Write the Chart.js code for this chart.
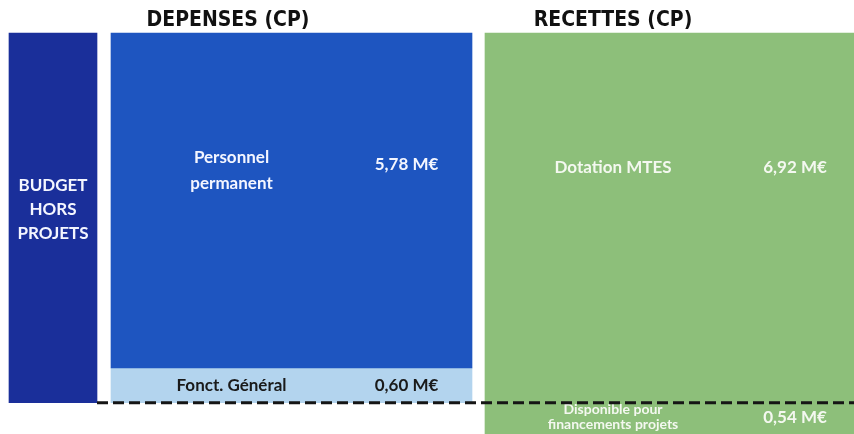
<!DOCTYPE html>
<html>
<head>
<meta charset="utf-8">
<script src="https://cdn.jsdelivr.net/npm/chart.js@4.4.1/dist/chart.umd.min.js"></script>
<style>
  html, body { margin: 0; padding: 0; background: #fff; }
  #wrap { width: 854px; height: 434px; }
</style>
</head>
<body>
<div id="wrap"><canvas id="budget"></canvas></div>
<script>
// values from the budget diagram (M€)
const columns = ['DEPENSES (CP)', 'RECETTES (CP)'];
const budgetLabel = ['BUDGET', 'HORS', 'PROJETS'];
const depenseNames = [['Personnel', 'permanent'], ['Fonct. Général']];
const depenseValues = [5.78, 0.60];
const recetteNames = [['Dotation MTES'], ['Disponible pour', 'financements projets']];
const recetteValues = [6.92, 0.54];

const dispo = recetteValues[1];
const dotation = recetteValues[0];
const fonctTop = dispo + depenseValues[1];
const persoTop = fonctTop + depenseValues[0];

const fmt = v => v.toFixed(2).replace('.', ',') + ' M€';
const labelFont = 'bold 17px Lato, "Open Sans", sans-serif';

function drawLines(ctx, lines, x, y, lh) {
  const start = y - (lines.length - 1) * lh / 2;
  lines.forEach((t, i) => ctx.fillText(t, x, start + i * lh));
}

// texts inside the blocks + dashed split line
const blockLabels = {
  id: 'blockLabels',
  afterDatasetsDraw(chart) {
    const ctx = chart.ctx;
    const el = (d, i) => chart.getDatasetMeta(d).data[i];
    const mid = e => (e.y + e.base) / 2;
    ctx.save();
    ctx.textAlign = 'center';
    ctx.textBaseline = 'middle';
    ctx.font = labelFont;

    const b = el(0, 0);
    ctx.fillStyle = '#f4f6ff';
    drawLines(ctx, budgetLabel, b.x, mid(b) - 8, 24);

    // upper row labels sit a bit above the middle of the big block
    const perso = el(1, 0);
    const rowY = perso.y + (perso.base - perso.y) * 0.41;
    drawLines(ctx, depenseNames[0], perso.x - 60, rowY, 26);
    ctx.fillText(fmt(depenseValues[0]), perso.x + 115, rowY - 6);

    const fonct = el(2, 0);
    ctx.fillStyle = '#1a1a1a';
    drawLines(ctx, depenseNames[1], fonct.x - 60, mid(fonct), 26);
    ctx.fillText(fmt(depenseValues[1]), fonct.x + 115, mid(fonct));

    const dot = el(3, 1);
    ctx.fillStyle = '#f4f8f0';
    drawLines(ctx, recetteNames[0], dot.x - 62, rowY - 3, 26);
    ctx.fillText(fmt(recetteValues[0]), dot.x + 120, rowY - 3);

    const dis = el(4, 1);
    const dy = mid(dis) - 1;
    ctx.font = 'bold 14px Lato, "Open Sans", sans-serif';
    drawLines(ctx, recetteNames[1], dis.x - 62, dy, 15);
    ctx.font = labelFont;
    ctx.fillText(fmt(recetteValues[1]), dis.x + 120, dy);

    // dashed line at the "disponible" level
    const y = chart.scales.y.getPixelForValue(dispo);
    ctx.beginPath();
    ctx.setLineDash([11, 5]);
    ctx.lineWidth = 3;
    ctx.strokeStyle = '#151515';
    ctx.moveTo(b.x + b.width / 2, y);
    ctx.lineTo(chart.width, y);
    ctx.stroke();
    ctx.restore();
  }
};

new Chart(document.getElementById('budget'), {
  type: 'bar',
  data: {
    labels: columns,
    datasets: [
      { label: 'Budget hors projets', data: [[dispo, persoTop], null], stack: 'a',
        backgroundColor: '#1a2f9a', barThickness: 94, maxBarThickness: 88 },
      { label: depenseNames[0].join(' '), data: [[fonctTop, persoTop], null], stack: 'b',
        backgroundColor: '#1e55c0', barThickness: 383, maxBarThickness: 361 },
      { label: depenseNames[1].join(' '), data: [[dispo, fonctTop], null], stack: 'b',
        backgroundColor: '#b3d4ee', barThickness: 383, maxBarThickness: 361 },
      { label: recetteNames[0].join(' '), data: [null, [dispo, dotation]], stack: 'b',
        backgroundColor: '#8dbf7a', barThickness: 380 },
      { label: recetteNames[1].join(' '), data: [null, [0, dispo]], stack: 'b',
        backgroundColor: '#8dbf7a', barThickness: 380 }
    ]
  },
  options: {
    responsive: true,
    maintainAspectRatio: false,
    animation: false,
    clip: false,
    layout: { padding: { left: 100, right: 369, top: 8, bottom: 0 } },
    scales: {
      x: {
        position: 'top',
        offset: false,
        grid: { display: false, drawTicks: false },
        border: { display: false },
        ticks: {
          labelOffset: 128,
          padding: 0,
          maxRotation: 0,
          color: '#111',
          font: { family: '"DejaVu Sans Condensed", sans-serif', size: 21, weight: 'bold' }
        }
      },
      y: { display: false, stacked: false, min: 0, max: dotation }
    },
    plugins: {
      legend: { display: false },
      tooltip: { enabled: false }
    }
  },
  plugins: [blockLabels]
});
</script>
</body>
</html>
